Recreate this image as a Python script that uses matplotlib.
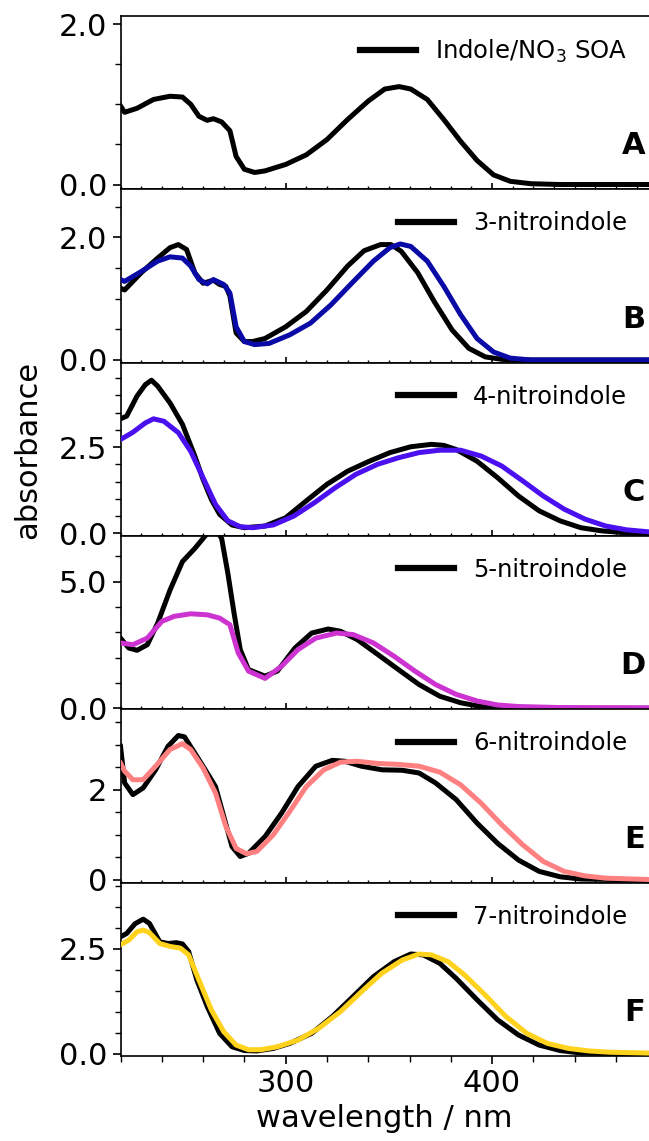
import matplotlib
matplotlib.use("Agg")
import matplotlib.pyplot as plt
from matplotlib.ticker import MultipleLocator, FormatStrFormatter

# ---------------- data ----------------
# Panel A: Indole/NO3 SOA
wl_a = [220, 222, 228, 236, 244, 250, 254, 258, 262, 265, 269, 273, 276, 280, 285, 290, 300, 310, 320,
        330, 340, 348, 355, 360.6, 368.6, 376.6, 384.7, 392.7, 400.7, 408.8, 418.8, 433, 476]
abs_a = [0.98, 0.90, 0.95, 1.06, 1.10, 1.09, 1.00, 0.85, 0.80, 0.82, 0.78, 0.67, 0.35, 0.19, 0.15, 0.17,
         0.25, 0.37, 0.56, 0.81, 1.04, 1.19, 1.22, 1.19, 1.06, 0.81, 0.54, 0.30, 0.12, 0.04, 0.01, 0.0, 0.0]

# Panel B: 3-nitroindole (black) and SOA comparison (blue)
wl_b_k = [220, 222, 230, 238, 244, 248, 252, 256, 260, 265, 268, 271, 273, 276, 280, 284, 290, 300, 310,
          320, 330, 338, 346, 351, 356, 364, 372, 380.6, 388.7, 396.7, 404.7, 412.8, 476]
abs_b_k = [1.17, 1.14, 1.42, 1.66, 1.83, 1.88, 1.80, 1.42, 1.25, 1.30, 1.23, 1.20, 1.04, 0.44, 0.30, 0.30,
           0.35, 0.54, 0.79, 1.14, 1.53, 1.78, 1.88, 1.88, 1.77, 1.42, 0.95, 0.49, 0.19, 0.05, 0.01, 0.0, 0.0]
wl_b_c = [220, 222, 230, 238, 244, 250, 254, 258, 262, 265, 270, 273, 276, 280, 285, 292, 302, 312, 322,
          332, 342.5, 350.5, 355.5, 360.6, 368.6, 376.6, 384.7, 392.7, 400.7, 408.8, 418.8, 476]
abs_b_c = [1.31, 1.28, 1.44, 1.61, 1.68, 1.66, 1.53, 1.31, 1.24, 1.31, 1.23, 1.09, 0.54, 0.30, 0.25, 0.27,
           0.41, 0.60, 0.90, 1.25, 1.61, 1.83, 1.89, 1.85, 1.61, 1.20, 0.74, 0.35, 0.13, 0.03, 0.0, 0.0]

# Panel C: 4-nitroindole
wl_c_k = [220, 223, 228, 232, 235, 238, 244, 250, 256, 260, 264, 268, 274, 280, 290, 300, 310, 320, 330,
          340.5, 350.5, 360.6, 370.6, 376.6, 382.6, 392.7, 402.7, 412.8, 422.8, 432.9, 443, 453, 463, 476]
abs_c_k = [3.32, 3.40, 3.98, 4.31, 4.44, 4.27, 3.78, 3.16, 2.24, 1.56, 0.98, 0.55, 0.24, 0.16, 0.21, 0.45,
           0.94, 1.42, 1.80, 2.09, 2.34, 2.51, 2.58, 2.55, 2.43, 2.09, 1.61, 1.08, 0.65, 0.36, 0.16, 0.07, 0.02, 0.0]
wl_c_c = [220, 226, 232, 236, 241, 248, 254, 260, 266, 272, 278, 284, 294, 304, 314, 324, 334, 344.5,
          354.6, 364.6, 374.6, 384.7, 394.7, 404.7, 414.8, 424.8, 434.9, 445, 455, 465, 476]
abs_c_c = [2.72, 2.93, 3.20, 3.32, 3.25, 2.92, 2.38, 1.61, 0.84, 0.36, 0.19, 0.16, 0.24, 0.50, 0.89, 1.32,
           1.71, 2.00, 2.19, 2.34, 2.41, 2.41, 2.24, 1.95, 1.52, 1.08, 0.70, 0.41, 0.21, 0.10, 0.04]

# Panel D: 5-nitroindole
wl_d_k = [220, 224, 228, 233, 238, 244, 250, 256, 262, 266, 269, 272, 275, 278, 282, 290, 296, 304.5,
          312.6, 320.6, 326.6, 334.7, 344.7, 354.6, 364.6, 374.6, 384.7, 394.7, 404.7, 476]
abs_d_k = [2.77, 2.38, 2.29, 2.51, 3.36, 4.67, 5.79, 6.31, 6.90, 7.10, 6.70, 5.33, 3.76, 2.32, 1.53, 1.27,
           1.47, 2.38, 2.97, 3.13, 3.04, 2.71, 2.12, 1.53, 0.94, 0.48, 0.22, 0.07, 0.0, 0.0]
wl_d_c = [220, 226, 233, 240, 246, 254, 262, 268, 273, 277, 282, 290, 298, 306, 314.6, 324.6, 332.7,
          342.5, 352.6, 362.6, 372.6, 382.6, 392.7, 402.7, 412.8, 433, 476]
abs_d_c = [2.58, 2.51, 2.77, 3.43, 3.63, 3.73, 3.69, 3.56, 3.30, 2.19, 1.47, 1.18, 1.66, 2.32, 2.77, 2.97,
           2.91, 2.58, 2.05, 1.47, 0.94, 0.55, 0.29, 0.13, 0.07, 0.03, 0.02]

# Panel E: 6-nitroindole
wl_e_k = [220, 222, 226, 231, 237, 243, 248, 251, 256, 262, 266, 270, 274, 278, 282, 290, 298, 306,
          314.6, 322.6, 328.6, 336.7, 346.7, 356.5, 364.6, 372.6, 382.6, 392.7, 402.7, 412.8, 422.8, 433, 443, 476]
abs_e_k = [2.96, 2.15, 1.89, 2.04, 2.44, 2.96, 3.20, 3.17, 2.81, 2.37, 2.07, 1.41, 0.74, 0.52, 0.59, 0.96,
           1.48, 2.07, 2.52, 2.65, 2.63, 2.52, 2.44, 2.43, 2.37, 2.15, 1.78, 1.26, 0.81, 0.44, 0.19, 0.07, 0.02, 0.0]
wl_e_c = [220, 222, 226, 231, 237, 244, 250, 254, 260, 266, 271, 276, 281, 286, 294, 302, 310, 318.5,
          326.6, 334.7, 344.7, 354.6, 364.6, 374.6, 384.7, 394.7, 404.7, 414.8, 424.8, 434.9, 445, 455, 476]
abs_e_c = [2.59, 2.41, 2.22, 2.22, 2.52, 2.89, 3.02, 2.89, 2.48, 1.93, 1.19, 0.70, 0.58, 0.63, 1.00, 1.52,
           2.07, 2.44, 2.61, 2.63, 2.58, 2.56, 2.52, 2.39, 2.11, 1.70, 1.22, 0.78, 0.41, 0.19, 0.09, 0.04, 0.01]

# Panel F: 7-nitroindole
wl_f_k = [220, 223, 227, 231, 234, 239, 243, 247, 250, 253, 257, 262, 268, 274, 280, 286, 294, 302,
          312.6, 322.6, 332.7, 342.5, 352.6, 360.6, 366.6, 374.6, 382.6, 392.7, 402.7, 412.8, 422.8, 433, 443, 476]
abs_f_k = [2.79, 2.87, 3.10, 3.21, 3.11, 2.67, 2.63, 2.65, 2.62, 2.44, 1.76, 1.13, 0.49, 0.17, 0.08, 0.07,
           0.13, 0.25, 0.49, 0.89, 1.37, 1.84, 2.20, 2.38, 2.36, 2.16, 1.80, 1.29, 0.81, 0.45, 0.21, 0.08, 0.02, 0.0]
wl_f_c = [220, 224, 228, 231, 234, 239, 244, 249, 253, 258, 264, 270, 276, 282, 288, 296, 306, 316,
          326.6, 336.7, 346.5, 356.6, 364.6, 370.6, 378.6, 386.7, 396.7, 406.7, 416.8, 426.8, 437, 447, 457, 476]
abs_f_c = [2.60, 2.71, 2.91, 2.95, 2.89, 2.63, 2.56, 2.52, 2.36, 1.76, 1.05, 0.53, 0.21, 0.10, 0.10, 0.17,
           0.33, 0.61, 1.01, 1.48, 1.92, 2.24, 2.38, 2.36, 2.20, 1.88, 1.40, 0.89, 0.49, 0.25, 0.13, 0.07, 0.04, 0.02]

labels = [r"Indole/NO$_3$ SOA", "3-nitroindole", "4-nitroindole", "5-nitroindole",
          "6-nitroindole", "7-nitroindole"]
letters = ["A", "B", "C", "D", "E", "F"]
colors = [None, "#0a0aa6", "#4a10f0", "#cc33d0", "#ff8080", "#ffd21e"]

panels = [
    (wl_a, abs_a, None, None),
    (wl_b_k, abs_b_k, wl_b_c, abs_b_c),
    (wl_c_k, abs_c_k, wl_c_c, abs_c_c),
    (wl_d_k, abs_d_k, wl_d_c, abs_d_c),
    (wl_e_k, abs_e_k, wl_e_c, abs_e_c),
    (wl_f_k, abs_f_k, wl_f_c, abs_f_c),
]
ylims = [(-0.06, 2.1), (-0.044, 2.78), (-0.08, 4.95), (-0.04, 6.8), (-0.06, 3.78), (-0.05, 4.08)]
ymajor = [2.0, 2.0, 2.5, 5.0, 2.0, 2.5]
yminor = [0.5, 0.5, 0.5, 1.0, 0.5, 0.5]
yfmt = ["%.1f", "%.1f", "%.1f", "%.1f", "%d", "%.1f"]

# ---------------- figure ----------------
plt.rcParams["font.family"] = ["DejaVu Sans"]
fig = plt.figure(figsize=(6.49, 11.41), dpi=100)
left = 120.5 / 649
top = 1 - 16 / 1141
bottom = 1 - 1056 / 1141
gs = fig.add_gridspec(6, 1, left=left, right=1.0, top=top, bottom=bottom, hspace=0)

lw = 3.6
axes = []
for i, (xk, yk, xc, yc) in enumerate(panels):
    ax = fig.add_subplot(gs[i])
    axes.append(ax)
    ax.plot(xk, yk, color="black", lw=lw, label=labels[i], solid_joinstyle="round", zorder=2)
    if xc is not None:
        ax.plot(xc, yc, color=colors[i], lw=lw, solid_joinstyle="round", zorder=3)
    ax.set_xlim(220, 476)
    ax.set_ylim(*ylims[i])
    ax.yaxis.set_major_locator(MultipleLocator(ymajor[i]))
    ax.yaxis.set_minor_locator(MultipleLocator(yminor[i]))
    ax.yaxis.set_major_formatter(FormatStrFormatter(yfmt[i]))
    ax.xaxis.set_major_locator(MultipleLocator(100))
    ax.spines["right"].set_visible(False)
    for s in ("left", "top", "bottom"):
        ax.spines[s].set_linewidth(1.2)
    ax.tick_params(axis="y", which="major", length=6, width=1.2, labelsize=22, direction="out")
    ax.tick_params(axis="y", which="minor", length=4, width=1.0, direction="out")
    if i < 5:
        ax.xaxis.set_minor_locator(MultipleLocator(10))
        ax.tick_params(axis="x", which="both", direction="in", labelbottom=False)
        ax.tick_params(axis="x", which="major", length=4, width=1.2)
        ax.tick_params(axis="x", which="minor", length=2.5, width=1.0)
    else:
        ax.xaxis.set_minor_locator(MultipleLocator(20))
        ax.tick_params(axis="x", which="major", length=6, width=1.2, labelsize=22, direction="out")
        ax.tick_params(axis="x", which="minor", length=4, width=1.0, direction="out")
        ax.set_xlabel("wavelength / nm", fontsize=22, labelpad=4)
    leg = ax.legend(loc="upper right", frameon=False, fontsize=17.5, handlelength=2.3,
                    handletextpad=0.8, borderaxespad=0.5)
    for h in leg.legend_handles:
        h.set_linewidth(4.5)
    ax.text(0.993, 0.25, letters[i], transform=ax.transAxes, ha="right", va="center",
            fontsize=22, fontweight="bold")

fig.text(28 / 649, 1 - 450 / 1141, "absorbance", rotation=90, ha="center", va="center", fontsize=22)

fig.savefig("out.png", dpi=100)
